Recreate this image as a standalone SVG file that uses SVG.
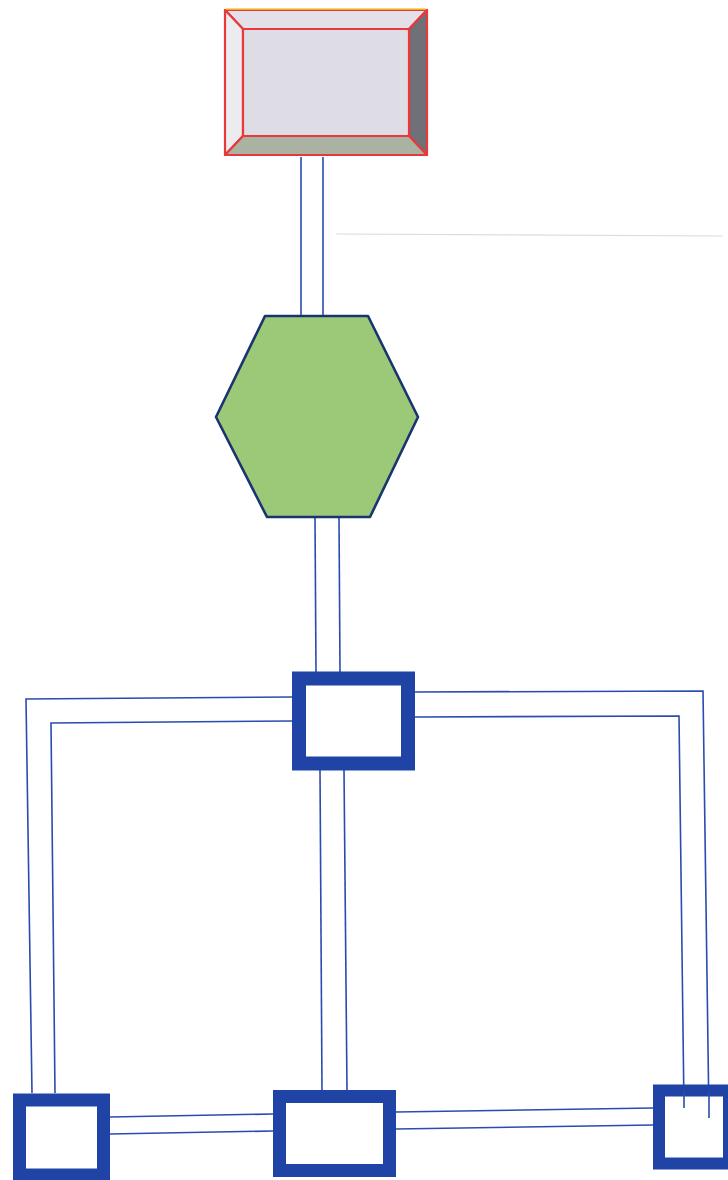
<svg xmlns="http://www.w3.org/2000/svg" width="728" height="1180" viewBox="0 0 728 1180">
<style>
.wire{fill:none;stroke:#2a4cb0;stroke-width:1.6}
.blk{fill:#ffffff;stroke:#1f44a6}
.bev{stroke:#e8383a;stroke-width:2.2;stroke-linejoin:round}
</style>
<rect width="728" height="1180" fill="#ffffff"/>
<g id="connectors">
<line class="wire" x1="301" y1="157" x2="301" y2="316"/>
<line class="wire" x1="323" y1="157" x2="323" y2="316"/>
<line x1="336" y1="234" x2="723" y2="236" stroke="#dcdcdc" stroke-width="1.2"/>
<line class="wire" x1="315" y1="517" x2="316" y2="672"/>
<line class="wire" x1="339" y1="517" x2="340" y2="672"/>
<polyline class="wire" points="292,697 26,699 32,1093"/>
<polyline class="wire" points="292,721 51,723 55,1093"/>
<polyline class="wire" points="415,692 703,691 709,1118"/>
<polyline class="wire" points="415,717 679,716 684,1108"/>
<line class="wire" x1="320" y1="770" x2="322" y2="1090"/>
<line class="wire" x1="344" y1="770" x2="347" y2="1090"/>
<line class="wire" x1="110" y1="1117" x2="273" y2="1114"/>
<line class="wire" x1="110" y1="1134" x2="273" y2="1131"/>
<line class="wire" x1="396" y1="1112" x2="653" y2="1108"/>
<line class="wire" x1="396" y1="1129" x2="653" y2="1125"/>
</g>
<g id="top-box">
<polygon class="bev" points="225,10 427,10 409,29 243,29" fill="#e4e0ea"/>
<polygon class="bev" points="225,10 243,29 243,136 225,155" fill="#ecebf0"/>
<polygon class="bev" points="427,10 427,155 409,136 409,29" fill="#707078"/>
<polygon class="bev" points="225,155 243,136 409,136 427,155" fill="#aab2a2"/>
<rect class="bev" x="243" y="29" width="166" height="107" fill="#dedde5"/>
<line x1="226" y1="9" x2="426" y2="9" stroke="#f2cf3a" stroke-width="1.5"/>
</g>
<g id="hexagon">
<polygon points="265,316 368,316 418,417 370,517 267,517 216,417" fill="#9cc978" stroke="#1b3470" stroke-width="2.6" stroke-linejoin="round"/>
</g>
<g id="mid-box">
<rect class="blk" x="299" y="678.5" width="109" height="85" stroke-width="14"/>
</g>
<g id="bottom-left-box">
<rect class="blk" x="19.5" y="1100" width="84" height="75" stroke-width="13"/>
</g>
<g id="bottom-mid-box">
<rect class="blk" x="279.5" y="1096.5" width="110" height="74" stroke-width="13"/>
</g>
<g id="bottom-right-box">
<rect class="blk" x="659" y="1090.5" width="70" height="73" stroke-width="12"/>
</g>
<g id="inner-ticks">
<line class="wire" x1="684" y1="1090" x2="684" y2="1108"/>
<line class="wire" x1="709" y1="1090" x2="709" y2="1118"/>
</g>
</svg>
